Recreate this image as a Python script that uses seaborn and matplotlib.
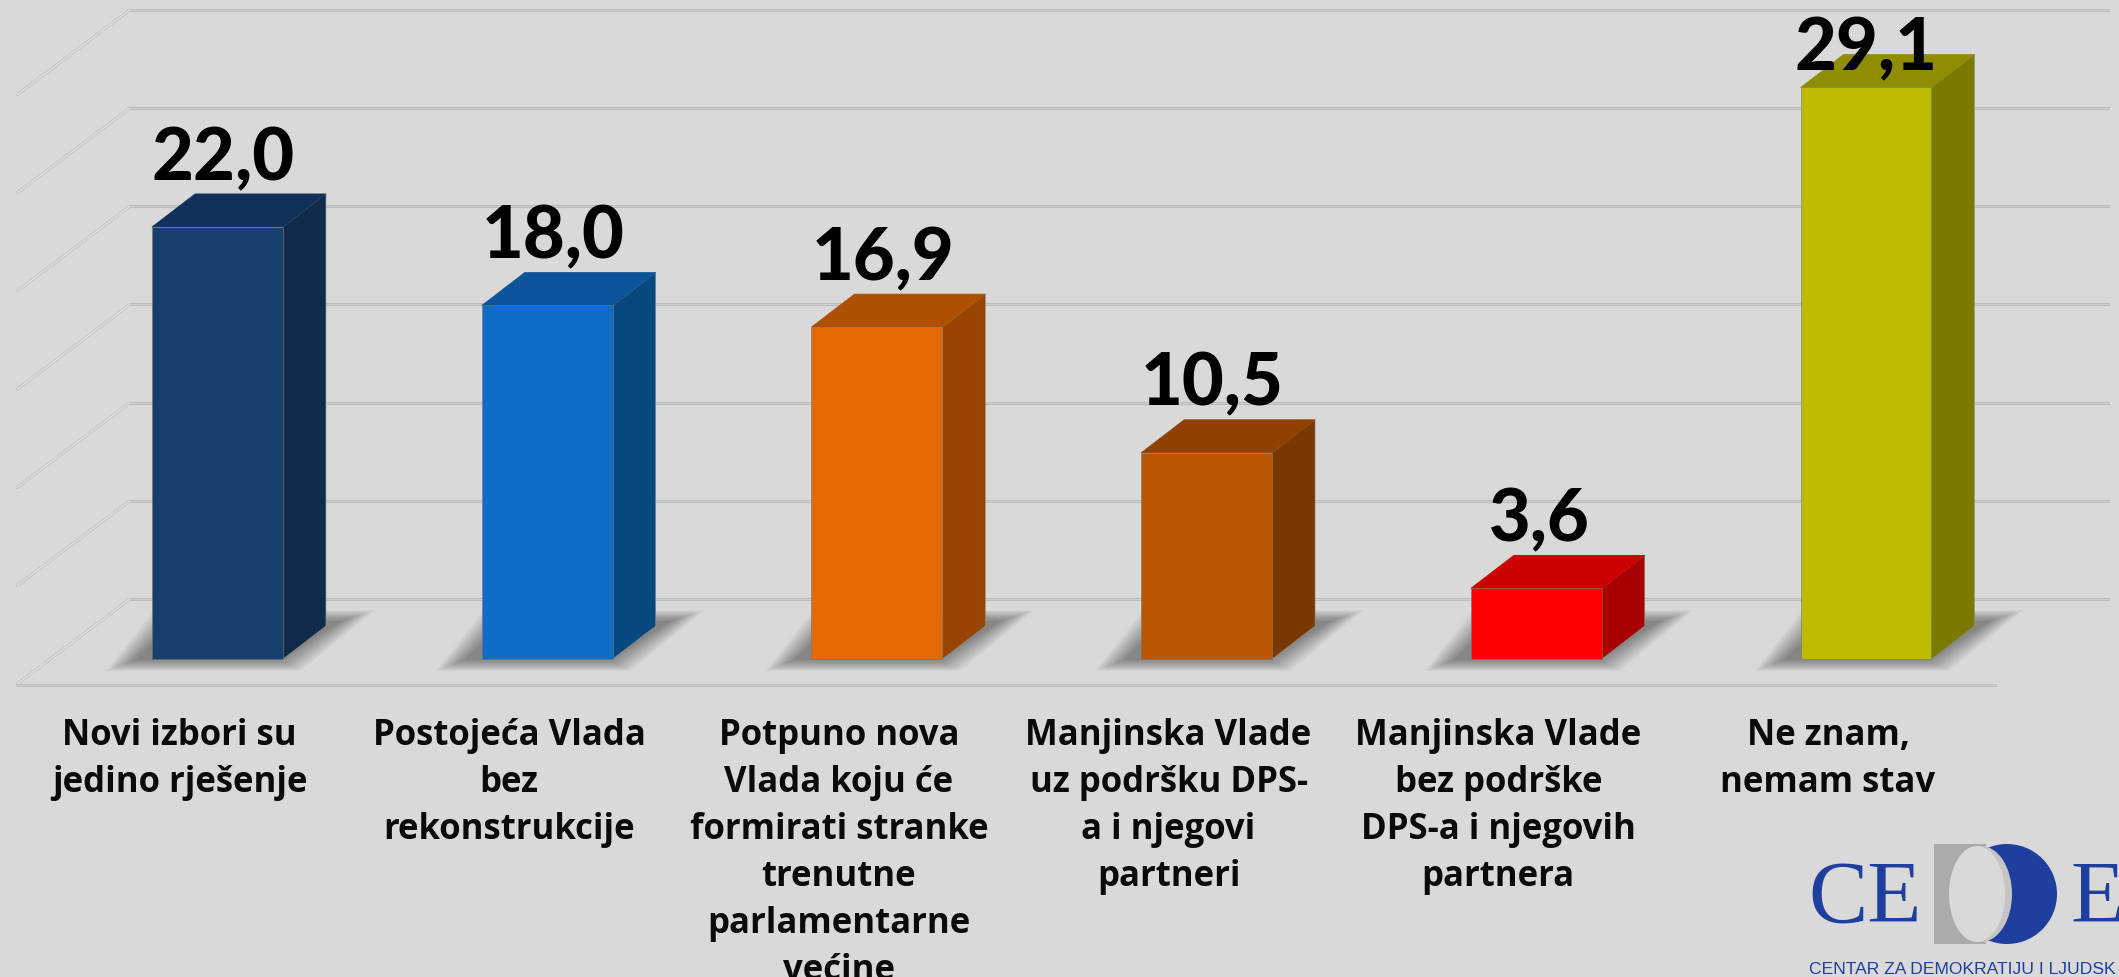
import matplotlib
matplotlib.use("Agg")
import matplotlib.pyplot as plt
from matplotlib.patches import Polygon, Rectangle, Ellipse
import pandas as pd
import seaborn as sns

categories = ["Novi izbori su\njedino rješenje",
              "Postojeća Vlada\nbez\nrekonstrukcije",
              "Potpuno nova\nVlada koju će\nformirati stranke\ntrenutne\nparlamentarne\nvećine",
              "Manjinska Vlade\nuz podršku DPS-\na i njegovi\npartneri",
              "Manjinska Vlade\nbez podrške\nDPS-a i njegovih\npartnera",
              "Ne znam,\nnemam stav"]
values = [22.0, 18.0, 16.9, 10.5, 3.6, 29.1]
value_labels = ["22,0", "18,0", "16,9", "10,5", "3,6", "29,1"]
wall_ticks = [0, 5, 10, 15, 20, 25, 30]

front_colors = ["#173F6E", "#0E6DC6", "#E56800", "#BB5500", "#FF0000", "#BDBB00"]
top_colors = ["#12315A", "#0B5499", "#AE5000", "#904100", "#CC0000", "#8F8E00"]
side_colors = ["#102A4C", "#064880", "#974500", "#783800", "#A80000", "#7B7A00"]

BG = "#D9D9D9"
LOGO_BLUE = "#1F3F9E"

# picture scale: one category step and one value unit in pixels
W, H = 2119, 977
STEP = 329.7
UNIT = 19.64
X0 = 217.5  # centre of first bar
BASE = 659  # bar foot


def dx(p):
    return p / STEP


def dy(p):
    return p / UNIT


def px(x, y):
    return (x - X0) / STEP, (BASE - y) / UNIT


sns.set_theme(style="white")
fig = plt.figure(figsize=(W / 100, H / 100), dpi=100, facecolor=BG)
ax = fig.add_axes([0, 0, 1, 1])

df = pd.DataFrame({"cat": categories, "val": values})
sns.barplot(data=df, x="cat", y="val", hue="cat", palette=front_colors, width=0.397,
            legend=False, ax=ax, zorder=4, saturation=1, edgecolor="#77776a", linewidth=0.4)

ax.set_xlim(px(0, 0)[0], px(W, 0)[0])
ax.set_ylim(px(0, H)[1], px(0, 0)[1])
ax.axis("off")

# back wall and left wall lines
for t in wall_ticks:
    x1, y1 = px(130, 599)
    x2, _ = px(2108, 599)
    x3, _ = px(17, 599)
    v = y1 + t
    ax.plot([x1, x2], [v, v], color="#bcbcbc", lw=2.2, zorder=1, solid_capstyle="round")
    ax.plot([x1, x2], [v, v], color="#d0d0d0", lw=0.7, zorder=1)
    ax.plot([x1, x3], [v, v - dy(85)], color="#c0c0c0", lw=2.0, zorder=1, solid_capstyle="round")
    ax.plot([x1, x3], [v, v - dy(85)], color="#e6e6e6", lw=0.8, zorder=1)

# floor front edge
fx1, fy = px(17, 685)
fx2, _ = px(1995, 685)
ax.plot([fx1, fx2], [fy, fy], color="#bcbcbc", lw=2.2, zorder=1, solid_capstyle="round")
ax.plot([fx1, fx2], [fy, fy], color="#d0d0d0", lw=0.7, zorder=1)

bars = ax.patches[:len(values)]
for i, bar in enumerate(bars):
    L = bar.get_x()
    R = L + bar.get_width()
    h = bar.get_height()
    ddx, ddy = dx(43), dy(33)

    # soft shadow on the floor, stacked see-through layers
    for k in range(14):
        g = k * 1.7
        ax.add_patch(Polygon([(L - dx(46 - g * 1.3), dy(-12 + g * 0.5)),
                              (R + dx(18 - g), dy(-12 + g * 0.5)),
                              (R + dx(92 - g * 1.5), dy(49 - g * 0.5)),
                              (L + dx(2 + g), dy(49 - g * 0.5))],
                             closed=True, fc="black", ec="none", alpha=0.03, zorder=2))

    # right side and top of the box
    ax.add_patch(Polygon([(R, 0), (R + ddx, ddy), (R + ddx, h + ddy), (R, h)],
                         closed=True, fc=side_colors[i], ec="#8c8c7c", lw=0.4, zorder=3))
    ax.add_patch(Polygon([(L, h), (R, h), (R + ddx, h + ddy), (L + ddx, h + ddy)],
                         closed=True, fc=top_colors[i], ec=top_colors[i], lw=0.5, zorder=3,
                         joinstyle="round"))

    # value above the box, kept inside the picture
    cx = L + bar.get_width() / 2
    off = 6 if i < 4 else (3 if i == 4 else 0)
    ytext = min(h + ddy + dy(14), px(0, 70)[1])
    ax.text(cx + dx(off), ytext, value_labels[i], ha="center", va="baseline",
            fontsize=52, fontfamily="Lato", fontweight="black", color="black", zorder=6)

    # category text under the floor
    ax.text(cx - dx(38), px(0, 718)[1], categories[i], ha="center", va="top",
            fontsize=25, fontfamily="Open Sans", fontweight="bold", color="#0a0a0a",
            linespacing=1.41, zorder=6)

# logo
lx, ly = px(1934, 944)
lx2, ly2 = px(1986, 844)
cx, cy = px(2007, 894)
ax.add_patch(Ellipse((cx, cy), dx(100), dy(100), fc=LOGO_BLUE, ec="none", zorder=2))
ax.add_patch(Rectangle((lx, ly), lx2 - lx, ly2 - ly, fc="#ababab", ec="none", zorder=3))
cx, cy = px(1981, 894)
ax.add_patch(Ellipse((cx, cy), dx(62), dy(96), fc="#c4c4c4", ec="none", zorder=3))
cx, cy = px(1977, 894)
ax.add_patch(Ellipse((cx, cy), dx(56), dy(96), fc=BG, ec="none", zorder=3))
tx, ty = px(1808, 922)
ax.text(tx, ty, "CE", fontsize=64, fontfamily="Liberation Serif", color=LOGO_BLUE,
        va="baseline", ha="left", zorder=6)
tx, ty = px(2070, 922)
ax.text(tx, ty, "E", fontsize=64, fontfamily="Liberation Serif", color=LOGO_BLUE,
        va="baseline", ha="left", zorder=6)
tx, ty = px(1809, 974)
ax.text(tx, ty, "CENTAR ZA DEMOKRATIJU I LJUDSK", fontsize=12.6,
        fontfamily="Liberation Sans", color=LOGO_BLUE,
        va="baseline", ha="left", zorder=6)

fig.savefig("out.png", dpi=100, facecolor=BG)
